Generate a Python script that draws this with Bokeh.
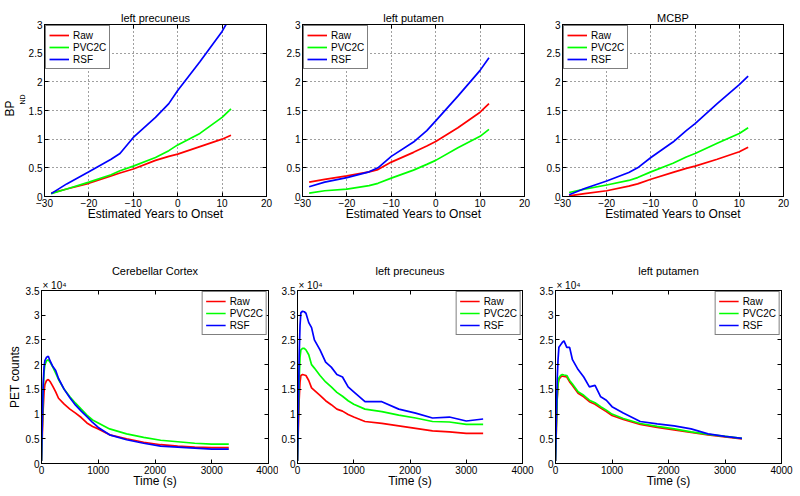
from bokeh.plotting import figure
from bokeh.layouts import column, row
from bokeh.models import (FixedTicker, Range1d, LinearAxis, Legend, LegendItem, Title,
                          CustomJSTickFormatter)
from bokeh.embed import file_html
from bokeh.resources import INLINE

FONT = "Liberation Sans"

series_names = ["Raw", "PVC2C", "RSF"]
series_colors = ["#ff0000", "#00ff00", "#0000ff"]

# ---- Top row: BP_ND vs estimated years to onset ----
years = [-28.5, -25, -20, -15, -13, -10, -5, -2, 0, 5, 10, 12]

bp_precuneus_raw = [0.06, 0.13, 0.23, 0.36, 0.41, 0.48, 0.63, 0.70, 0.74, 0.87, 1.00, 1.07]
bp_precuneus_pvc = [0.05, 0.13, 0.25, 0.38, 0.45, 0.53, 0.68, 0.80, 0.90, 1.10, 1.38, 1.53]
bp_precuneus_rsf = [0.05, 0.22, 0.43, 0.65, 0.75, 1.03, 1.38, 1.62, 1.85, 2.35, 2.88, 3.15]

bp_putamen_raw = [0.25, 0.30, 0.36, 0.43, 0.47, 0.60, 0.77, 0.88, 0.96, 1.20, 1.47, 1.62]
bp_putamen_pvc = [0.06, 0.10, 0.13, 0.19, 0.23, 0.32, 0.46, 0.56, 0.63, 0.85, 1.05, 1.17]
bp_putamen_rsf = [0.17, 0.25, 0.33, 0.43, 0.50, 0.70, 0.95, 1.15, 1.32, 1.75, 2.20, 2.42]

bp_mcbp_raw = [0.01, 0.05, 0.10, 0.18, 0.22, 0.30, 0.42, 0.49, 0.53, 0.65, 0.78, 0.86]
bp_mcbp_pvc = [0.07, 0.13, 0.20, 0.28, 0.33, 0.43, 0.58, 0.69, 0.75, 0.93, 1.10, 1.20]
bp_mcbp_rsf = [0.03, 0.14, 0.27, 0.42, 0.50, 0.68, 0.95, 1.15, 1.27, 1.62, 1.95, 2.10]

year_ticks = [-30, -20, -10, 0, 10, 20]
bp_ticks = [0, 0.5, 1, 1.5, 2, 2.5, 3]

# ---- Bottom row: PET counts vs time ----
time_s = [0, 15, 30, 45, 60, 90, 120, 150, 200, 250, 300, 400, 500, 600, 700, 800,
          900, 1000, 1200, 1500, 1800, 2100, 2400, 2700, 3000, 3300]

pet_cereb_raw = [500, 6000, 11000, 14500, 16000, 16800, 17000, 16600, 15600, 14500, 13200, 12000,
                 11000, 10200, 9300, 8200, 7500, 7000, 5800, 5000, 4300, 3800, 3500, 3300, 3200, 3200]
pet_cereb_pvc = [500, 8000, 15000, 18500, 20000, 20800, 21000, 20500, 19500, 18300, 17000, 15000,
                 13500, 12200, 11000, 9800, 8800, 8200, 7000, 6000, 5300, 4700, 4400, 4100, 3900, 3900]
pet_cereb_rsf = [500, 9000, 16000, 19500, 20800, 21500, 21700, 20800, 19600, 18800, 17200, 15000,
                 13300, 11800, 10600, 9500, 8300, 7300, 5800, 4800, 4100, 3500, 3300, 3100, 2900, 2900]

pet_precun_raw = [500, 7000, 13000, 16500, 17800, 18000, 17900, 17800, 16800, 15300, 14800, 13800,
                  12700, 11900, 11000, 10600, 9900, 9400, 8500, 8100, 7600, 7100, 6600, 6400, 6100, 6100]
pet_precun_pvc = [500, 9000, 17000, 21500, 23000, 23300, 23300, 23000, 22000, 20000, 19300, 17800,
                  16500, 15500, 14400, 13600, 12700, 12000, 11000, 10500, 9800, 9200, 8500, 8400, 7900, 7900]
pet_precun_rsf = [500, 11000, 22000, 28000, 30500, 30800, 30700, 30400, 28500, 27500, 25000, 23000,
                  20500, 19500, 18000, 17500, 15500, 14500, 12500, 12500, 11000, 10200, 9200, 9400, 8600, 9000]

pet_putam_raw = [500, 7000, 13000, 16000, 17000, 17500, 17700, 17600, 17500, 16500, 15800, 14200,
                 13500, 12500, 12000, 11200, 10500, 9700, 8900, 7900, 7300, 6800, 6300, 5800, 5400, 5000]
pet_putam_pvc = [500, 7200, 13300, 16300, 17300, 17800, 18000, 17900, 17800, 16800, 16100, 14500,
                 13800, 12800, 12300, 11500, 10800, 10000, 9100, 8100, 7500, 7000, 6400, 5900, 5500, 5100]
pet_putam_rsf = [500, 9000, 17000, 21000, 23500, 24000, 24500, 24800, 23500, 23500, 21000, 19000,
                 17500, 15500, 15800, 13500, 12800, 11500, 10200, 8500, 8000, 7600, 7000, 6000, 5500, 5100]

time_ticks = [0, 1000, 2000, 3000, 4000]
pet_ticks = [0, 5000, 10000, 15000, 20000, 25000, 30000, 35000]

BLANK = CustomJSTickFormatter(code="return '';")


def style_axis(ax, ticks, label="", hidden=False, label_standoff=1):
    ax.ticker = FixedTicker(ticks=ticks)
    ax.major_tick_in = 4
    ax.major_tick_out = 0
    ax.minor_tick_in = 0
    ax.minor_tick_out = 0
    ax.axis_line_color = "black"
    ax.major_tick_line_color = "black"
    ax.major_label_text_font = FONT
    ax.major_label_text_color = "black"
    ax.major_label_text_font_size = "10px"
    if hidden:
        ax.formatter = BLANK
        ax.major_label_standoff = 0
    else:
        ax.major_label_standoff = 2
    ax.axis_label = label
    ax.axis_label_text_font = FONT
    ax.axis_label_text_font_size = "12px"
    ax.axis_label_text_font_style = "normal"
    ax.axis_label_text_color = "black"
    ax.axis_label_standoff = label_standoff


def make_panel(title, xs, ys_list, xr, yr, xticks, yticks, xlabel, ylabel,
               width, height, bl, br, bt, bb, grid, legend_loc, scaled):
    p = figure(width=width, height=height, x_range=Range1d(*xr), y_range=Range1d(*yr),
               output_backend="svg", toolbar_location=None,
               min_border_left=bl, min_border_right=br, min_border_top=bt, min_border_bottom=bb)
    p.title.text = title
    p.title.text_font = FONT
    p.title.text_font_size = "11px"
    p.title.text_font_style = "normal"
    p.title.text_color = "black"
    p.title.align = "center"
    p.title.standoff = 2
    p.outline_line_color = "black"
    p.outline_line_alpha = 1
    p.background_fill_color = "white"
    p.border_fill_color = "white"

    style_axis(p.xaxis[0], xticks, xlabel, label_standoff=-3)
    style_axis(p.yaxis[0], yticks, ylabel)
    if scaled:
        p.yaxis[0].formatter = CustomJSTickFormatter(code="return (tick / 10000).toString();")
    top = LinearAxis()
    style_axis(top, xticks, hidden=True)
    right = LinearAxis()
    style_axis(right, yticks, hidden=True)
    p.add_layout(top, "above")
    p.add_layout(right, "right")

    if grid:
        for g in (p.xgrid[0], p.ygrid[0]):
            g.grid_line_color = "black"
            g.grid_line_alpha = 0.75
            g.grid_line_dash = "1 3"
            g.grid_line_width = 1
        p.xgrid[0].ticker = FixedTicker(ticks=xticks)
        p.ygrid[0].ticker = FixedTicker(ticks=yticks)
    else:
        p.xgrid.visible = False
        p.ygrid.visible = False

    items = []
    for name, col, ys in zip(series_names, series_colors, ys_list):
        r = p.line(xs, ys, line_color=col, line_width=1.7)
        items.append(LegendItem(label=name, renderers=[r]))
    leg = Legend(items=items, location=legend_loc)
    leg.border_line_color = "black"
    leg.border_line_width = 1
    leg.background_fill_color = "white"
    leg.background_fill_alpha = 1
    leg.label_text_font = FONT
    leg.label_text_font_size = "10px"
    leg.label_text_color = "black"
    leg.glyph_width = 20
    leg.glyph_height = 12
    leg.label_height = 12
    leg.label_standoff = 4
    leg.spacing = 0
    leg.padding = 3
    leg.margin = 1
    p.add_layout(leg)
    return p


TOP_H, BOT_H = 240, 256
XL1 = "Estimated Years to Onset"
XL2 = "Time (s)"

p1 = make_panel("left precuneus", years, [bp_precuneus_raw, bp_precuneus_pvc, bp_precuneus_rsf],
                (-30, 20), (0, 3), year_ticks, bp_ticks, XL1, "",
                280, TOP_H, 43, 14, 24, 44, True, "top_left", False)
p2 = make_panel("left putamen", years, [bp_putamen_raw, bp_putamen_pvc, bp_putamen_rsf],
                (-30, 20), (0, 3), year_ticks, bp_ticks, XL1, "",
                260, TOP_H, 22, 16, 24, 44, True, "top_left", False)
p3 = make_panel("MCBP", years, [bp_mcbp_raw, bp_mcbp_pvc, bp_mcbp_rsf],
                (-30, 20), (0, 3), year_ticks, bp_ticks, XL1, "",
                260, TOP_H, 22, 17, 24, 44, True, "top_left", False)

# y label BP with subscript ND (subscript sits nearer the frame, shifted up)
p1.add_layout(Title(text="ND", text_font=FONT, text_font_size="7px", text_font_style="normal",
                    text_color="black", align="left", offset=92, standoff=0), "left")
p1.add_layout(Title(text="BP", text_font=FONT, text_font_size="12px", text_font_style="normal",
                    text_color="black", align="left", offset=80, standoff=0), "left")

p4 = make_panel("Cerebellar Cortex", time_s, [pet_cereb_raw, pet_cereb_pvc, pet_cereb_rsf],
                (0, 4000), (0, 35000), time_ticks, pet_ticks, XL2, "PET counts",
                278, BOT_H, 41, 10, 50, 33, False, "top_right", True)
p5 = make_panel("left precuneus", time_s, [pet_precun_raw, pet_precun_pvc, pet_precun_rsf],
                (0, 4000), (0, 35000), time_ticks, pet_ticks, XL2, "",
                258, BOT_H, 18, 14, 50, 33, False, "top_right", True)
p6 = make_panel("left putamen", time_s, [pet_putam_raw, pet_putam_pvc, pet_putam_rsf],
                (0, 4000), (0, 35000), time_ticks, pet_ticks, XL2, "",
                264, BOT_H, 17, 19, 50, 33, False, "top_right", True)

for p in (p4, p5, p6):
    p.add_layout(Title(text="\u00d7 10\u2074", text_font=FONT, text_font_size="10px",
                       text_font_style="normal", text_color="black", align="left",
                       offset=1, standoff=0), "above")

layout = column(row(p1, p2, p3), row(p4, p5, p6))
open("out.html", "w").write(file_html(layout, INLINE))
